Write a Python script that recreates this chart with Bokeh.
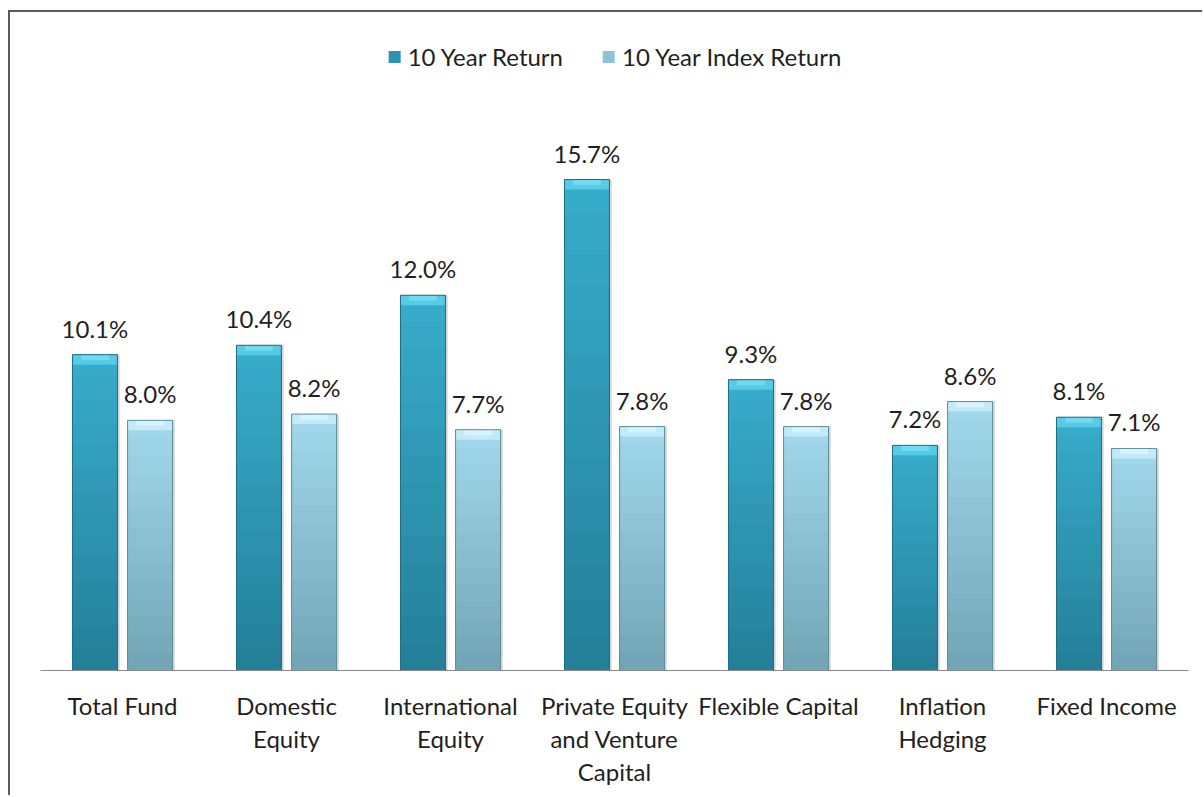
from bokeh.plotting import figure
from bokeh.models import (ColumnDataSource, FactorRange, Range1d, Legend, LegendItem,
                          LabelSet, CategoricalAxis, CustomJSTickFormatter)
from bokeh.transform import dodge
from bokeh.core.properties import value
from bokeh.embed import file_html
from bokeh.resources import INLINE

# ---- data ----
categories = ["Total Fund", "Domestic Equity", "International Equity",
              "Private Equity and Venture Capital", "Flexible Capital",
              "Inflation Hedging", "Fixed Income"]
tick_labels = ["Total Fund", "Domestic\nEquity", "International\nEquity",
               "Private Equity\nand Venture\nCapital", "Flexible Capital",
               "Inflation\nHedging", "Fixed Income"]
ten_year_return = [10.1, 10.4, 12.0, 15.7, 9.3, 7.2, 8.1]
ten_year_index_return = [8.0, 8.2, 7.7, 7.8, 7.8, 8.6, 7.1]
series_names = ["10 Year Return", "10 Year Index Return"]

FONT = "Lato"
FS = "24px"
TXT = "#1f1f1f"

W, H = 1194, 785
p = figure(x_range=FactorRange(*categories), y_range=Range1d(0, 20.53),
           width=W, height=H, output_backend="svg", toolbar_location=None,
           min_border_left=30, min_border_right=16, min_border_top=16,
           min_border_bottom=127)
p.styles = {"border-top": "2px solid #5b5b5b", "border-left": "2px solid #5b5b5b",
            "margin-left": "8px", "margin-top": "10px"}
p.outline_line_color = None
p.xgrid.visible = False
p.ygrid.visible = False
p.yaxis.visible = False
p.x_range.range_padding = 0

# multi-line category labels: one categorical axis per text line
split = [t.split("\n") for t in tick_labels]
nlines = max(len(s) for s in split)
line_lists = [[(s[i] if i < len(s) else "") for s in split] for i in range(nlines)]

ax0 = p.xaxis[0]
ax0.axis_line_color = "#8a8a8a"
ax0.axis_line_width = 1
ax0.major_label_standoff = 20
axes = [ax0]
for i in range(1, nlines):
    ax = CategoricalAxis(axis_line_color=None, major_label_standoff=1)
    p.add_layout(ax, "below")
    axes.append(ax)
for i, ax in enumerate(axes):
    ax.major_tick_line_color = None
    ax.minor_tick_line_color = None
    ax.major_tick_out = 0
    ax.major_tick_in = 0
    ax.formatter = CustomJSTickFormatter(
        args=dict(cats=categories, lines=line_lists[i]),
        code="const k = cats.indexOf(tick); return k >= 0 ? lines[k] : '';")
    ax.major_label_text_font = FONT
    ax.major_label_text_font_size = FS
    ax.major_label_text_color = TXT
    ax.major_label_orientation = "horizontal"

BW = 0.274
OFF = 0.168
N = 14


def mix(c1, c2, t):
    a = [int(c1[i:i + 2], 16) for i in (1, 3, 5)]
    b = [int(c2[i:i + 2], 16) for i in (1, 3, 5)]
    return "#%02x%02x%02x" % tuple(round(a[j] + (b[j] - a[j]) * t) for j in range(3))


styles = [
    dict(vals=ten_year_return, off=-OFF, top="#37abca", bot="#25809a",
         edge="#1f6d82", cap="#55cbe6", cap2="#7fe0f3", base="#2a95b2"),
    dict(vals=ten_year_index_return, off=OFF, top="#a0d7ea", bot="#72a6b7",
         edge="#5e8d9c", cap="#c2ebf7", cap2="#dff6fc", base="#8cc4d6"),
]

legend_items = []
for name, st in zip(series_names, styles):
    vals = st["vals"]
    cap_h = 0.32
    data = dict(cat=categories, v=vals,
                capb=[v - cap_h for v in vals],
                capb2=[v - cap_h * 0.55 for v in vals],
                botcap=[0.25 for v in vals])
    for k in range(N):
        data["t%d" % k] = [v * (1 - k / N) for v in vals]
    src = ColumnDataSource(data)
    # soft shadow
    p.vbar(x=dodge("cat", st["off"] + 0.014, range=p.x_range), top="v", bottom=0,
           width=BW, source=src, fill_color="#b5b5b5", fill_alpha=0.55, line_color=None)
    base = p.vbar(x=dodge("cat", st["off"], range=p.x_range), top="v", bottom=0,
                  width=BW, source=src, fill_color=st["base"], line_color=None)
    for k in range(N):
        p.vbar(x=dodge("cat", st["off"], range=p.x_range), top="t%d" % k, bottom=0,
               width=BW, source=src, fill_color=mix(st["top"], st["bot"], k / (N - 1)),
               line_color=None)
    # bottom bevel
    p.vbar(x=dodge("cat", st["off"], range=p.x_range), top="botcap", bottom=0,
           width=BW * 0.86, source=src, fill_color=st["bot"], fill_alpha=0.6,
           line_color=None)
    # top bevel
    p.vbar(x=dodge("cat", st["off"], range=p.x_range), top="v", bottom="capb",
           width=BW, source=src, fill_color=st["cap"], line_color=None)
    p.vbar(x=dodge("cat", st["off"], range=p.x_range), top="v", bottom="capb2",
           width=BW * 0.62, source=src, fill_color=st["cap2"], fill_alpha=0.7,
           line_color=None)
    # edges
    p.vbar(x=dodge("cat", st["off"], range=p.x_range), top="v", bottom=0,
           width=BW, source=src, fill_color=None, line_color=st["edge"],
           line_width=1)
    legend_items.append(LegendItem(label=name, renderers=[base]))

    src_lab = ColumnDataSource(dict(x=categories, y=vals,
                                    txt=["%.1f%%" % v for v in vals]))
    labels = LabelSet(x=dodge("x", st["off"], range=p.x_range), y="y", text="txt",
                      source=src_lab, text_align="center", text_baseline="alphabetic",
                      y_offset=17, text_font=value(FONT), text_font_size=FS,
                      text_color=TXT)
    p.add_layout(labels)

legend = Legend(items=legend_items, orientation="horizontal", location="top_center",
                glyph_width=15, glyph_height=15, label_standoff=6, spacing=38,
                margin=14, padding=0, border_line_color=None, background_fill_alpha=0,
                label_text_font=FONT, label_text_font_size=FS, label_text_color=TXT)
p.add_layout(legend)

open("out.html", "w").write(file_html(p, INLINE))
